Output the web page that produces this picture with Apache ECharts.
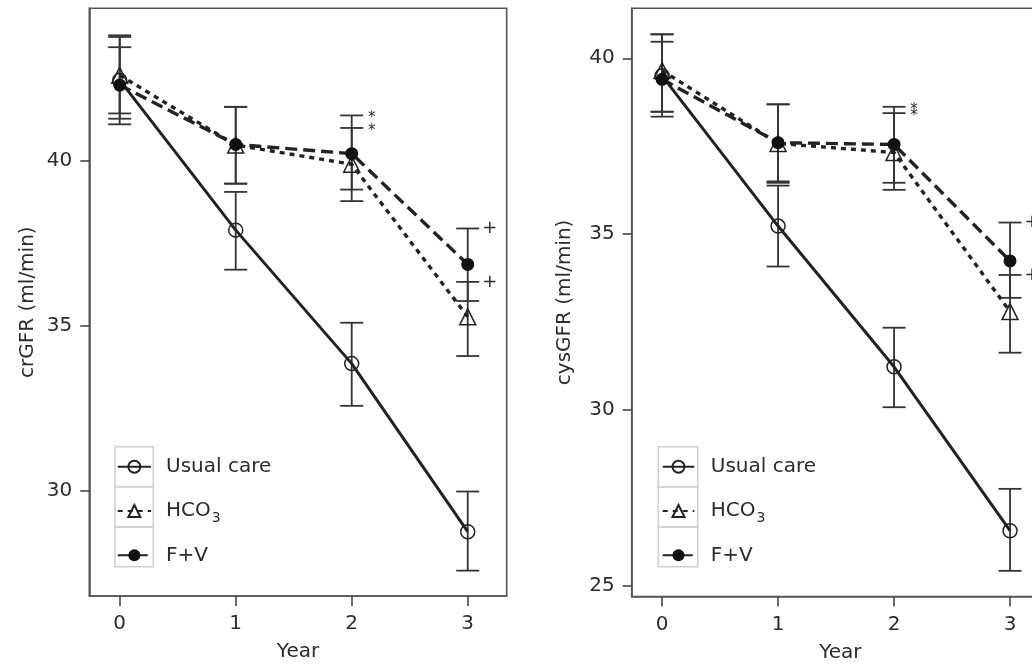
<!DOCTYPE html>
<html>
<head>
<meta charset="utf-8">
<script src="https://cdn.jsdelivr.net/npm/echarts@6/dist/echarts.min.js"></script>
<style>
  html, body { margin: 0; padding: 0; background: #fff; }
  #chart { width: 1032px; height: 665px; }
</style>
</head>
<body>
<div id="chart"></div>
<script>
// ---- data ----
const years = [0, 1, 2, 3];
const xTicks = [0, 1, 2, 3];
const crTicks = [30, 35, 40];
const cysTicks = [25, 30, 35, 40];
const seriesNames = ['Usual care', 'HCO3', 'F+V'];

// crGFR panel (left)
const crUsual = [42.45, 37.9, 33.85, 28.75];
const crUsualLo = [41.28, 36.7, 32.57, 27.57];
const crUsualHi = [43.81, 39.06, 35.09, 29.97];
const crHco3 = [42.6, 40.48, 39.9, 35.27];
const crHco3Lo = [41.44, 39.31, 38.78, 34.08];
const crHco3Hi = [43.76, 41.64, 41.0, 36.33];
const crFv = [42.3, 40.5, 40.22, 36.86];
const crFvLo = [41.11, 39.31, 39.13, 35.75];
const crFvHi = [43.45, 41.64, 41.38, 37.95];

// cysGFR panel (right)
const cysUsual = [39.5, 35.23, 31.23, 26.57];
const cysUsualLo = [38.34, 34.08, 30.08, 25.43];
const cysUsualHi = [40.68, 36.38, 32.34, 27.76];
const cysHco3 = [39.65, 37.58, 37.32, 32.8];
const cysHco3Lo = [38.48, 36.5, 36.26, 31.63];
const cysHco3Hi = [40.68, 38.69, 38.44, 33.84];
const cysFv = [39.4, 37.6, 37.55, 34.24];
const cysFvLo = [38.48, 36.46, 36.46, 33.19];
const cysFvHi = [40.47, 38.69, 38.62, 35.33];

// significance marks: '*' at year 2, '+' at year 3 (placed at the upper caps)
const starYear = 2;
const plusYear = 3;

// ---- helpers ----
const FONT = 'DejaVu Sans';
const INK = '#222';
const TEXT = '#2b2b2b';

const pts = vals => years.map((y, i) => [y, vals[i]]);
const errs = (lo, hi) => years.map((y, i) => [y, lo[i], hi[i]]);

function renderErr(params, api) {
  const x = api.value(0);
  const lo = api.coord([x, api.value(1)]);
  const hi = api.coord([x, api.value(2)]);
  const w = 11.5;
  const st = { stroke: '#333', lineWidth: 1.8 };
  return {
    type: 'group',
    children: [
      { type: 'line', shape: { x1: lo[0], y1: lo[1], x2: hi[0], y2: hi[1] }, style: st },
      { type: 'line', shape: { x1: lo[0] - w, y1: lo[1], x2: lo[0] + w, y2: lo[1] }, style: st },
      { type: 'line', shape: { x1: hi[0] - w, y1: hi[1], x2: hi[0] + w, y2: hi[1] }, style: st }
    ]
  };
}

function markSeries(idx, data, txt, dx, dy, size) {
  return {
    type: 'custom',
    name: 'mark',
    xAxisIndex: idx,
    yAxisIndex: idx,
    z: 4,
    silent: true,
    clip: false,
    data: data,
    renderItem: (params, api) => {
      const p = api.coord([api.value(0), api.value(1)]);
      return {
        type: 'text',
        x: p[0] + dx,
        y: p[1] + dy,
        style: { text: txt, fontSize: size, fontFamily: FONT, fill: TEXT, align: 'center', verticalAlign: 'middle' }
      };
    }
  };
}

function panelSeries(idx, u, uLo, uHi, h, hLo, hHi, f, fLo, fHi) {
  const base = { xAxisIndex: idx, yAxisIndex: idx };
  const errBase = Object.assign({ type: 'custom', name: 'err', z: 2, silent: true, renderItem: renderErr, encode: { x: 0, y: [1, 2] } }, base);
  return [
    Object.assign({}, errBase, { data: errs(uLo, uHi) }),
    Object.assign({}, errBase, { data: errs(hLo, hHi) }),
    Object.assign({}, errBase, { data: errs(fLo, fHi) }),
    Object.assign({
      type: 'line', name: seriesNames[0], z: 3, data: pts(u),
      symbol: 'circle', symbolSize: 14,
      lineStyle: { color: INK, width: 3, type: 'solid' },
      itemStyle: { color: 'rgba(255,255,255,0)', borderColor: INK, borderWidth: 1.5 }
    }, base),
    Object.assign({
      type: 'line', name: seriesNames[1], z: 3, data: pts(h),
      symbol: 'triangle', symbolSize: 16,
      lineStyle: { color: INK, width: 3.4, type: [5, 5] },
      itemStyle: { color: 'rgba(255,255,255,0)', borderColor: INK, borderWidth: 1.5 }
    }, base),
    Object.assign({
      type: 'line', name: seriesNames[2], z: 3, data: pts(f),
      symbol: 'circle', symbolSize: 13,
      lineStyle: { color: INK, width: 3.4, type: [12, 6] },
      itemStyle: { color: '#111', borderColor: '#111', borderWidth: 0 }
    }, base),
    markSeries(idx, [[starYear, fHi[starYear]], [starYear, hHi[starYear]]], '*', 20, 3, 15),
    markSeries(idx, [[plusYear, fHi[plusYear]], [plusYear, hHi[plusYear]]], '+', 22, 0, 18)
  ];
}

function xAxis(idx) {
  return {
    type: 'value', gridIndex: idx, min: -0.262, max: 3.336,
    name: 'Year', nameLocation: 'middle', nameGap: 46,
    nameTextStyle: { fontSize: 20, color: TEXT, fontFamily: FONT },
    splitLine: { show: false },
    axisLine: { show: true, onZero: false, lineStyle: { color: '#555', width: 1.6 } },
    axisTick: { show: true, customValues: xTicks, length: 10, lineStyle: { color: '#444', width: 1.6 } },
    axisLabel: { customValues: xTicks, margin: 18, fontSize: 20, color: TEXT, fontFamily: FONT }
  };
}

function yAxis(idx, min, max, ticks, name, gap) {
  return {
    type: 'value', gridIndex: idx, min: min, max: max,
    name: name, nameLocation: 'middle', nameGap: gap,
    nameTextStyle: { fontSize: 20, color: TEXT, fontFamily: FONT },
    splitLine: { show: false },
    axisLine: { show: true, onZero: false, lineStyle: { color: '#555', width: 1.6 } },
    axisTick: { show: true, customValues: ticks, length: 9, lineStyle: { color: '#444', width: 1.6 } },
    axisLabel: { customValues: ticks, margin: 17, fontSize: 20, color: TEXT, fontFamily: FONT }
  };
}

function legend(left, iconW, textPad, top) {
  return {
    orient: 'vertical', left: left, top: top, padding: 0,
    data: seriesNames, itemWidth: iconW, itemHeight: 15, itemGap: 20.3,
    selectedMode: false,
    formatter: name => name === 'HCO3' ? '{t|HCO}{s|3}' : '{t|' + name + '}',
    textStyle: {
      fontFamily: FONT, color: TEXT, fontSize: 20, height: 20, lineHeight: 20,
      padding: [0, 0, 0, textPad],
      rich: {
        t: { fontSize: 20, fontFamily: FONT, color: TEXT, lineHeight: 20 },
        s: { fontSize: 14, fontFamily: FONT, color: TEXT, lineHeight: 20, padding: [14, 0, 0, 1] }
      }
    }
  };
}

function legendBox(x, w) {
  const rows = [446.7, 486.7, 527];
  const h = [40, 40.3, 39.7];
  return rows.map((y, i) => ({
    type: 'rect', silent: true, z: 1,
    shape: { x: x, y: y, width: w, height: h[i] },
    style: { fill: 'none', stroke: '#cfcfcf', lineWidth: 1.6 }
  }));
}

const chart = echarts.init(document.getElementById('chart'));

chart.setOption({
  animation: false,
  textStyle: { fontFamily: FONT },
  grid: [
    { left: 89.3, top: 8.3, width: 417.4, height: 587.7, outerBoundsMode: 'none', containLabel: false, show: true, borderColor: '#555', borderWidth: 1.6, backgroundColor: '#fff' },
    // right panel runs past the canvas edge, as in the source figure
    { left: 631.7, top: 8.3, width: 417.3, height: 588.2, outerBoundsMode: 'none', containLabel: false, show: true, borderColor: '#555', borderWidth: 1.6, backgroundColor: '#fff' }
  ],
  xAxis: [xAxis(0), xAxis(1)],
  yAxis: [
    yAxis(0, 26.8, 44.63, crTicks, 'crGFR (ml/min)', 52),
    yAxis(1, 24.7, 41.42, cysTicks, 'cysGFR (ml/min)', 57)
  ],
  legend: [
    legend(116.7, 33.3, 10, 456.7),
    legend(661.7, 31.6, 11.5, 456.7)
  ],
  graphic: legendBox(115, 38.3).concat(legendBox(658.3, 39.4)),
  series: panelSeries(0, crUsual, crUsualLo, crUsualHi, crHco3, crHco3Lo, crHco3Hi, crFv, crFvLo, crFvHi)
    .concat(panelSeries(1, cysUsual, cysUsualLo, cysUsualHi, cysHco3, cysHco3Lo, cysHco3Hi, cysFv, cysFvLo, cysFvHi))
});
</script>
</body>
</html>
